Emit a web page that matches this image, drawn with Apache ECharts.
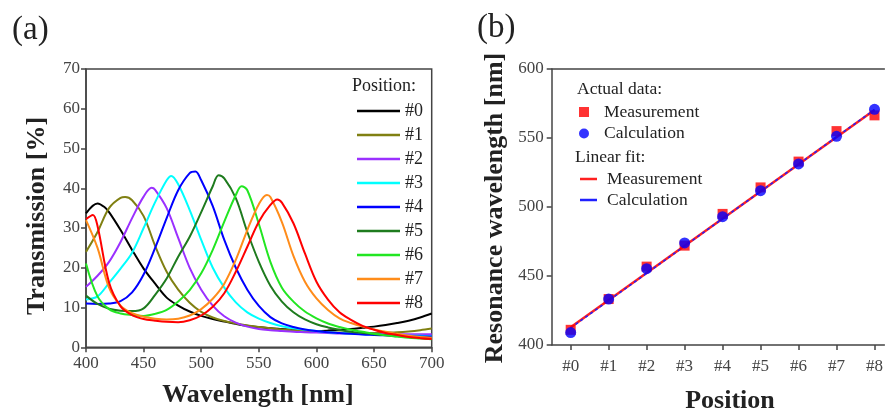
<!DOCTYPE html>
<html><head><meta charset="utf-8">
<script src="https://cdn.jsdelivr.net/npm/echarts@6/dist/echarts.min.js"></script>
<style>html,body{margin:0;padding:0;background:#fff}#c{width:886px;height:412px}</style>
</head><body><div id="c"></div>
<script>
// ---------- Panel (a): transmission spectra ----------
const wl = [400,410,420,430,440,450,460,470,480,490,500,510,520,530,540,550,560,570,580,590,600,610,620,630,640,650,660,670,680,690,700];
const t0 = [33.7,36.2,34.0,29.5,24.5,19.8,16.0,12.5,10.5,9.0,7.9,7.1,6.5,5.9,5.4,5.1,4.8,4.6,4.4,4.2,4.1,4.2,4.4,4.6,4.9,5.2,5.6,6.1,6.7,7.5,8.5];
const t1 = [24.0,29.0,35.0,37.6,37.0,33.0,25.5,19.0,14.5,11.2,8.9,7.5,6.6,6.0,5.5,5.1,4.8,4.5,4.3,4.1,3.9,3.8,3.7,3.6,3.6,3.6,3.7,3.8,4.0,4.3,4.7];
const t2 = [15.2,18.0,21.5,26.5,32.5,37.9,39.6,35.0,27.5,20.0,14.5,10.5,7.8,6.2,5.2,4.6,4.3,4.1,3.9,3.8,3.7,3.6,3.5,3.5,3.4,3.4,3.3,3.3,3.3,3.3,3.3];
const t3 = [12.0,12.8,16.2,19.8,23.8,30.0,36.5,42.0,41.0,34.5,27.0,20.0,15.0,11.3,8.8,7.2,6.1,5.3,4.8,4.4,4.1,3.8,3.6,3.4,3.3,3.2,3.1,3.0,2.9,2.9,2.8];
const t4 = [11.0,10.9,11.0,11.6,13.8,18.3,25.0,32.5,39.5,43.8,42.0,35.5,27.0,20.0,14.5,10.4,7.6,6.0,5.1,4.5,4.1,3.8,3.6,3.4,3.2,3.1,3.0,2.9,2.8,2.7,2.7];
const t5 = [13.0,10.9,9.7,9.2,9.1,9.8,13.2,17.3,22.8,27.8,34.0,40.5,42.5,37.5,29.0,21.5,15.5,11.5,8.8,7.0,5.8,5.0,4.4,3.9,3.6,3.3,3.0,2.8,2.6,2.4,2.3];
const t6 = [21.1,12.8,9.6,8.5,8.1,7.9,8.4,9.4,11.5,14.4,18.6,24.5,31.6,38.3,39.5,31.0,21.5,15.0,11.5,9.0,7.3,6.0,5.1,4.4,3.9,3.4,3.0,2.7,2.4,2.2,2.0];
const t7 = [32.0,25.0,15.0,10.5,8.6,7.7,7.2,7.0,7.2,8.0,9.6,12.2,16.0,22.0,29.5,36.0,37.8,31.5,23.0,16.5,12.3,9.4,7.3,6.1,5.2,4.5,3.9,3.4,2.9,2.6,2.4];
const t8 = [32.2,30.5,16.3,10.3,8.1,7.1,6.7,6.4,6.3,6.8,8.0,10.2,13.6,19.0,25.3,31.6,35.8,36.4,31.2,23.6,16.5,12.0,8.8,6.9,5.4,4.4,3.6,3.1,2.6,2.3,2.1];
// peak / extra points: [wavelength, transmission]
const pk0 = [[416,35.3]];
const pk1 = [[434,37.8]];
const pk2 = [[457,40.1]];
const pk3 = [[474,43.1]];
const pk4 = [[495,44.2]];
const pk5 = [[515,43.3]];
const pk6 = [[535,40.5]];
const pk7 = [[557,38.3]];
const pk8 = [[406,33.3],[566,37.2]];
const posNames = ['#0','#1','#2','#3','#4','#5','#6','#7','#8'];
const posColors = ['#000000','#808012','#9b30ff','#00ffff','#0000ff','#1e7b1e','#22e622','#ff8c1a','#ff0000'];

// ---------- Panel (b): resonance wavelength ----------
const positions = ['#0','#1','#2','#3','#4','#5','#6','#7','#8'];
const posIndex = [0,1,2,3,4,5,6,7,8];
const measured = [411.0,433.3,456.8,472.0,495.0,514.2,532.9,555.0,566.4];
const calculated = [409.0,433.3,455.3,474.0,493.0,511.8,531.2,551.2,570.8];
const measFitEnds = [412.8,570.3];
const calcFitEnds = [412.4,570.6];

const SERIF = "'Liberation Serif','Times New Roman',serif";
const AX = '#444';

function mergeSeries(t, pk){
  const pts = wl.map((w,i)=>[w,t[i]]);
  pk.forEach(p=>{
    const k = pts.findIndex(q=>q[0]===p[0]);
    if(k>=0) pts[k]=p; else pts.push(p);
  });
  pts.sort((a,b)=>a[0]-b[0]);
  return pts;
}
const tAll = [t0,t1,t2,t3,t4,t5,t6,t7,t8];
const pkAll = [pk0,pk1,pk2,pk3,pk4,pk5,pk6,pk7,pk8];

const axisCommon = {
  axisLine:{show:true,onZero:false,lineStyle:{color:AX,width:1.5}},
  axisTick:{show:true,inside:false,length:5,lineStyle:{color:AX,width:1.5}},
  splitLine:{show:false}
};

const series = [];
posNames.forEach((n,i)=>{
  series.push({
    name:n, type:'line', xAxisIndex:0, yAxisIndex:0,
    data: mergeSeries(tAll[i], pkAll[i]),
    symbol:'none', smooth:0.35,
    lineStyle:{width:2,color:posColors[i]}, itemStyle:{color:posColors[i]},
    z: 2
  });
});
series.push({
  name:'Measurement fit', type:'line', xAxisIndex:1, yAxisIndex:1,
  data:[[posIndex[0],measFitEnds[0]],[posIndex[8],measFitEnds[1]]],
  symbol:'none', lineStyle:{width:2.5,color:'#ff2020'}, itemStyle:{color:'#ff2020'}, z:2
});
series.push({
  name:'Calculation fit', type:'line', xAxisIndex:1, yAxisIndex:1,
  data:[[posIndex[0],calcFitEnds[0]],[posIndex[8],calcFitEnds[1]]],
  symbol:'none', lineStyle:{width:1.5,color:'#2020ff',type:[3,3]}, itemStyle:{color:'#2020ff'}, z:3
});
series.push({
  name:'Measurement', type:'scatter', xAxisIndex:1, yAxisIndex:1,
  data:measured.map((v,i)=>[posIndex[i],v]), symbol:'rect', symbolSize:10, itemStyle:{color:'#ff0000'}, z:4
});
series.push({
  name:'Calculation', type:'scatter', xAxisIndex:1, yAxisIndex:1,
  data:calculated.map((v,i)=>[posIndex[i],v]), symbol:'circle', symbolSize:11, itemStyle:{color:'#0000ff'}, z:5
});

function txt(text, x, y, size, opts){
  opts = opts || {};
  return {type:'text', x:x, y:y, rotation:opts.rot||0, z:10,
    style:{text:text, fontFamily:SERIF, fontSize:size, fontWeight:opts.bold?'bold':'normal',
      fill:opts.color||'#222', align:opts.align||'center', verticalAlign:'middle'}};
}

const option = {
  backgroundColor:'#fff',
  animation:false,
  grid:[
    {left:86, top:69, width:345.7, height:278.3, show:true, borderColor:AX, borderWidth:1.5, containLabel:false},
    {left:551.7, right:0, top:69, height:276, show:false, containLabel:false}
  ],
  xAxis:[
    Object.assign({gridIndex:0, type:'value', min:400, max:700, interval:50,
      axisLabel:{color:AX, fontSize:17, fontFamily:SERIF, margin:8}}, axisCommon),
    Object.assign({gridIndex:1, type:'value', min:-0.5, max:8.26,
      axisLabel:{color:AX, fontSize:17, fontFamily:SERIF, margin:13, customValues:posIndex,
        formatter:v=>positions[Math.round(v)]}}, axisCommon,
      {axisTick:{show:true,inside:false,length:5,customValues:posIndex,lineStyle:{color:AX,width:1.5}}}),
    {gridIndex:1, type:'value', position:'top', min:-0.5, max:8.26,
      axisLine:{show:true,onZero:false,lineStyle:{color:AX,width:1.5}},
      axisTick:{show:false}, axisLabel:{show:false}, splitLine:{show:false}}
  ],
  yAxis:[
    Object.assign({gridIndex:0, type:'value', min:0, max:70, interval:10,
      axisLabel:{color:AX, fontSize:17, fontFamily:SERIF, margin:6}}, axisCommon),
    Object.assign({gridIndex:1, type:'value', min:400, max:600, interval:50,
      axisLabel:{color:AX, fontSize:17, fontFamily:SERIF, margin:8}}, axisCommon)
  ],
  legend:[
    {data:posNames, orient:'vertical', left:352, top:97, icon:'rect', itemWidth:43, itemHeight:2.5, itemGap:6,
      selectedMode:false, textStyle:{fontFamily:SERIF, fontSize:18, color:'#222'}},
    {data:['Measurement','Calculation'], orient:'vertical', left:574, top:98, itemWidth:10, itemHeight:10, itemGap:3.5,
      selectedMode:false, textStyle:{fontFamily:SERIF, fontSize:17.5, color:'#222', padding:[0,0,0,10]}},
    {data:['Measurement fit','Calculation fit'], orient:'vertical', left:575, top:165, icon:'rect', itemWidth:17, itemHeight:2.5, itemGap:3,
      selectedMode:false, formatter:n=>n.replace(' fit',''),
      textStyle:{fontFamily:SERIF, fontSize:17.5, color:'#222', padding:[0,0,0,5]}}
  ],
  graphic:[
    txt('(a)', 12, 30, 33, {align:'left'}),
    txt('(b)', 477, 28, 33, {align:'left'}),
    txt('Transmission [%]', 37, 216, 26, {bold:true, rot:Math.PI/2}),
    txt('Wavelength [nm]', 258, 395, 26, {bold:true}),
    txt('Resonance wavelength [nm]', 495, 208, 26, {bold:true, rot:Math.PI/2}),
    txt('Position', 730, 401, 26, {bold:true}),
    txt('Position:', 352, 86, 18, {align:'left'}),
    txt('Actual data:', 577, 89, 17.5, {align:'left'}),
    txt('Linear fit:', 575, 157, 17.5, {align:'left'})
  ],
  series: series
};
const chart = echarts.init(document.getElementById('c'), null, {renderer:'canvas'});
chart.setOption(option);
</script>
</body></html>
